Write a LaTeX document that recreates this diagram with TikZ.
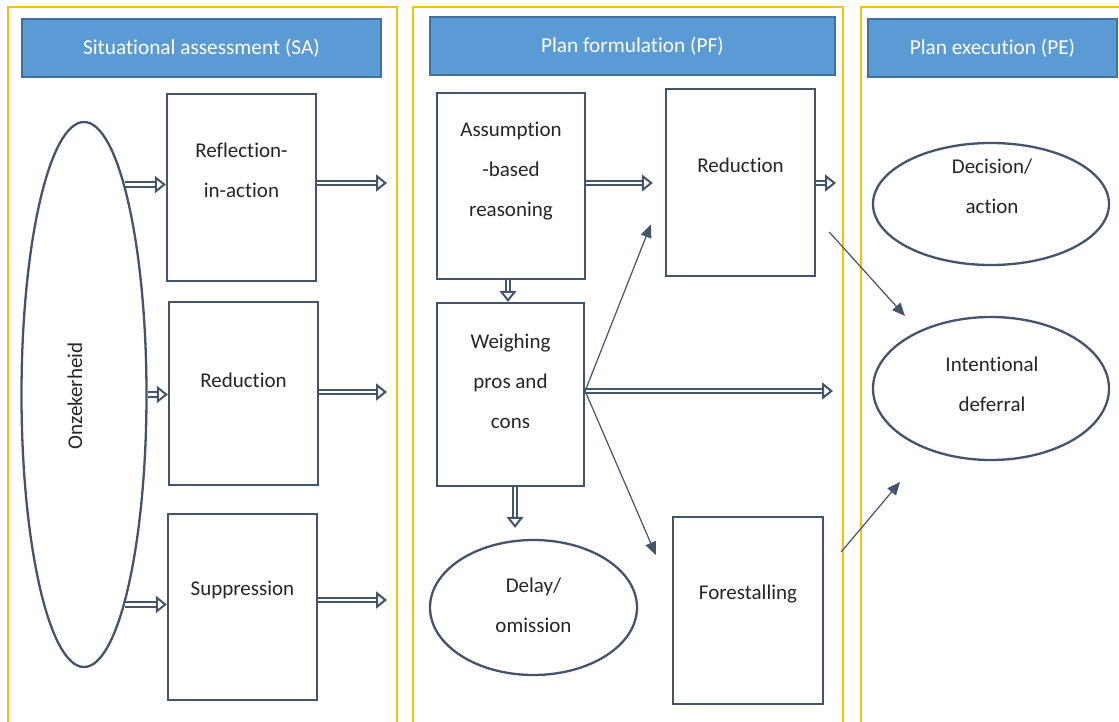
\documentclass[tikz,border=0pt]{standalone}
\usepackage{fontspec}
\setmainfont{Carlito}[Ligatures=NoCommon]
\usetikzlibrary{arrows.meta,shapes.geometric,calc}
\definecolor{dk}{HTML}{44546A}
\definecolor{gold}{HTML}{FFC000}
\definecolor{hdfill}{HTML}{5B9BD5}
\definecolor{hdline}{HTML}{41719C}
\definecolor{ink}{HTML}{262626}
\tikzset{
  column/.style={draw=gold, line width=1.5pt},
  header/.style={draw=hdline, fill=hdfill, line width=2pt, inner sep=0pt,
    text=white, font=\fontsize{21.3}{24}\selectfont},
  box/.style={draw=dk, line width=2.3pt, inner sep=0pt, minimum width=#1},
  oval/.style={ellipse, draw=dk, line width=2.3pt, inner sep=0pt},
  txt/.style={text=ink, align=center, inner sep=0pt,
    font=\fontsize{21}{40}\selectfont},
  dbl/.style={draw=dk, line width=2pt, double=white, double distance=2.4pt,
    -{Triangle[open, length=11pt, width=17pt, line width=2pt]}},
  thin/.style={draw=dk, line width=1.2pt, -{Triangle[length=13pt, width=11pt]}},
}
\begin{document}
\begin{tikzpicture}[x=1pt, y=-1pt]
\useasboundingbox (0,0) rectangle (1119,722);
\clip (0,0) rectangle (1119,722);
\fill[white] (0,0) rectangle (1119,722);

% three phase columns
\draw[column] (8,7) rectangle (397,740);
\draw[column] (413,7) rectangle (843,740);
\draw[column] (861,7) rectangle (1140,740);

% column headers
\node[header, minimum width=359pt, minimum height=58pt] (hSA) at (201.5,48) {Situational assessment (SA)};
\node[header, minimum width=405pt, minimum height=58pt] (hPF) at (632.5,46) {Plan formulation (PF)};
\node[header, minimum width=249pt, minimum height=58pt] (hPE) at (992.5,48) {Plan execution (PE)};

% situational assessment
\node[oval, minimum width=125pt, minimum height=545pt] (onz) at (84,394.5) {};
\node[txt, rotate=90] at (75,396) {Onzekerheid};
\node[box=149pt, minimum height=187pt] (rfl) at (241.5,187.5) {};
\node[txt] at (241.5,170.5) {Reflection-\\in-action};
\node[box=149pt, minimum height=183pt] (redSA) at (243.5,393.5) {};
\node[txt] at (243.5,380) {Reduction};
\node[box=149pt, minimum height=186pt] (sup) at (242.5,607) {};
\node[txt] at (242.5,590) {Suppression};

% plan formulation
\node[box=148pt, minimum height=186pt] (asm) at (511,186) {};
\node[txt] at (511,171) {Assumption\\-based\\reasoning};
\node[box=147pt, minimum height=183pt] (wgh) at (510.5,394.5) {};
\node[txt] at (510.5,381) {Weighing\\pros and\\cons};
\node[oval, minimum width=207pt, minimum height=135pt] (dly) at (533.5,607.5) {};
\node[txt] at (533.5,605.5) {Delay/\\omission};
\node[box=149pt, minimum height=187pt] (redPF) at (740.5,182.5) {};
\node[txt] at (740.5,165) {Reduction};
\node[box=150pt, minimum height=187pt] (fst) at (748,610.5) {};
\node[txt] at (748,594) {Forestalling};

% plan execution
\node[oval, minimum width=236pt, minimum height=122pt] (dec) at (991,204) {};
\node[txt] at (992,186.5) {Decision/\\action};
\node[oval, minimum width=236pt, minimum height=143pt] (idf) at (991,388.5) {};
\node[txt] at (992,384.5) {Intentional\\deferral};

% free arrow ends at the column borders
\coordinate (sa1) at (387,183);
\coordinate (sa2) at (387,392);
\coordinate (sa3) at (387,600);
\coordinate (pf1) at (836,183);
\coordinate (pf2) at (833,391);

% uncertainty feeds the three assessment modes
\draw[dbl] (onz.79) -- (rfl.west |- onz.79);
\draw[dbl] (onz.east) -- (onz.east -| redSA.west);
\draw[dbl] (onz.-79) -- (sup.west |- onz.-79);
\draw[dbl] (rfl.east |- sa1) -- (sa1);
\draw[dbl] (redSA.east |- sa2) -- (sa2);
\draw[dbl] (sup.east |- sa3) -- (sa3);

% plan formulation flow
\draw[dbl] (asm.east |- sa1) -- ($(redPF.west |- sa1)+(-12,0)$);
\draw[dbl] (redPF.east |- pf1) -- (pf1);
\draw[dbl] ([xshift=-3pt]asm.south) -- ([xshift=-3pt]asm.south |- wgh.north);
\draw[dbl] (wgh.east |- pf2) -- (pf2);
\draw[dbl] ([xshift=4.5pt]wgh.south) -- ([xshift=-18.5pt, yshift=11pt]dly.north);
\draw[thin] (wgh.east |- pf2) -- ([xshift=-14pt, yshift=-42pt]redPF.west);
\draw[thin] (wgh.east |- pf2) -- ([xshift=-16pt, yshift=55.5pt]fst.west);

% towards intentional deferral
\draw[thin] ([xshift=13pt, yshift=-49.5pt]redPF.east) -- ($(idf.center)+(-86,-72.5)$);
\draw[thin] ([xshift=17pt, yshift=58.5pt]fst.east) -- ($(idf.center)+(-91,93.5)$);
\end{tikzpicture}
\end{document}
